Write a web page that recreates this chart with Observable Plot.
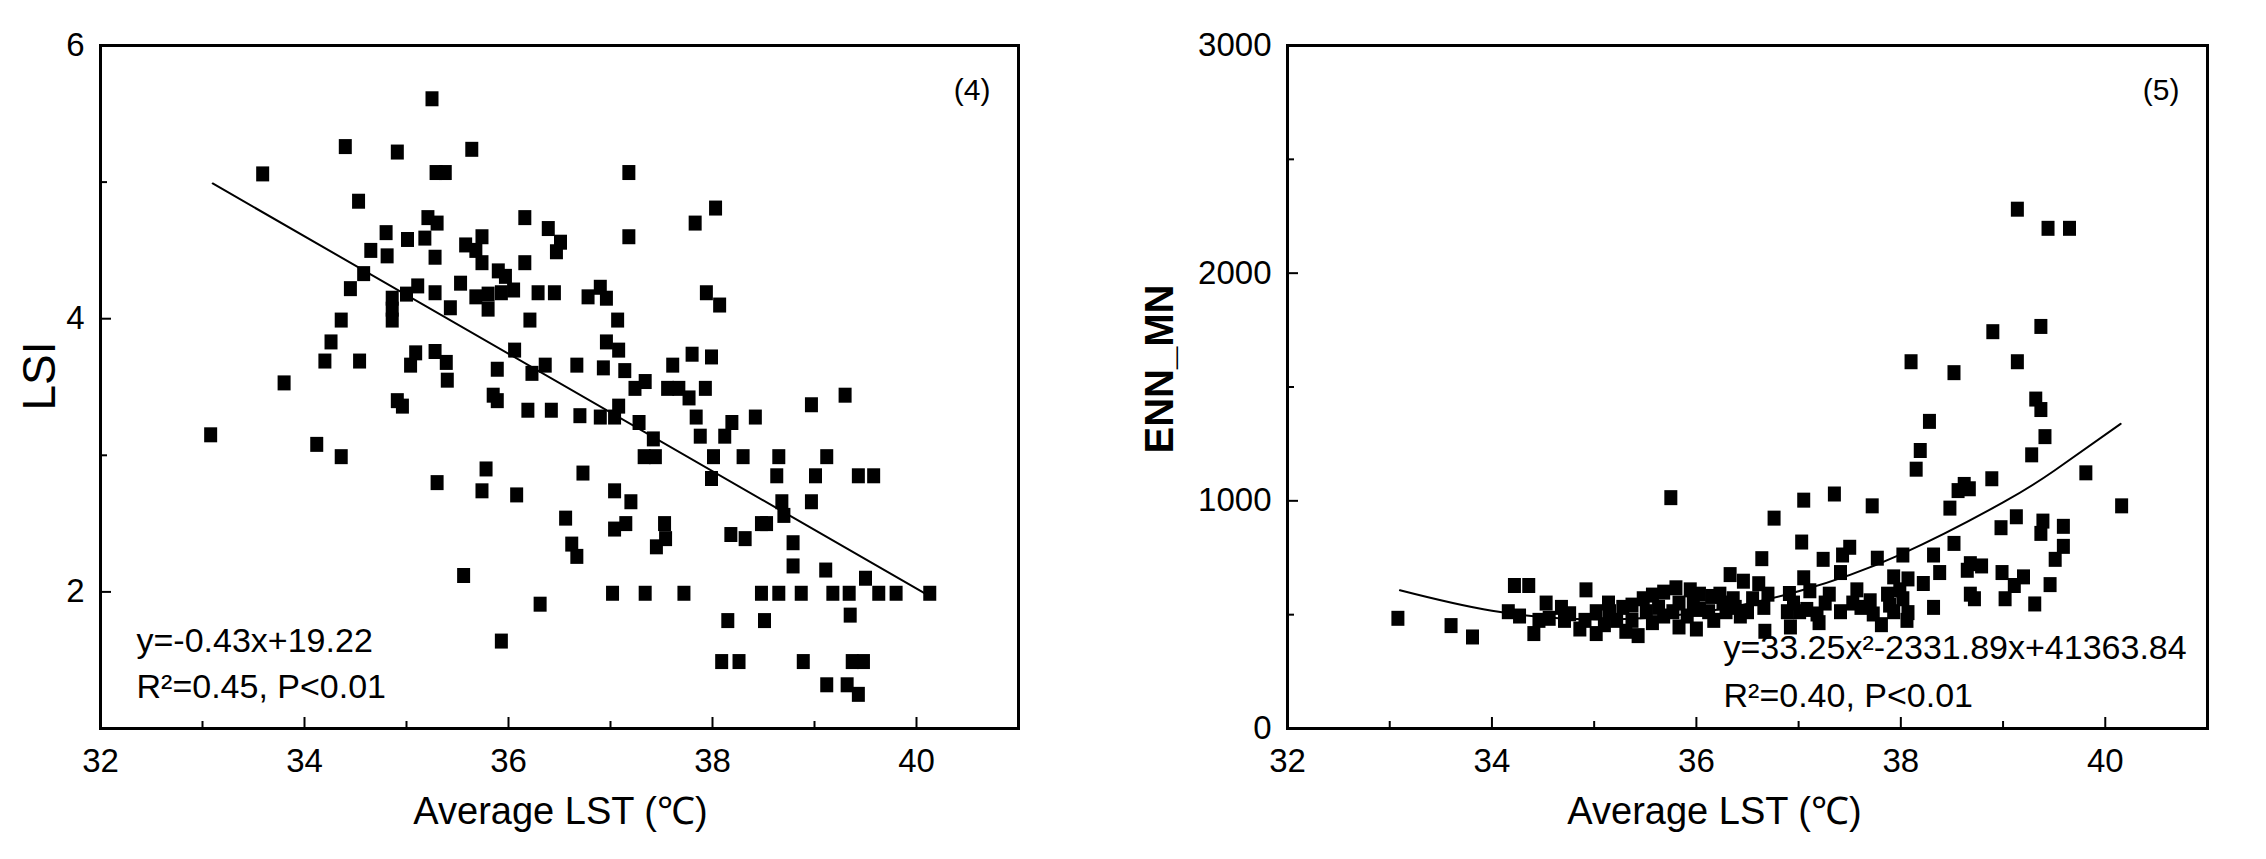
<!DOCTYPE html>
<html>
<head>
<meta charset="utf-8">
<script src="https://cdn.jsdelivr.net/npm/d3@7"></script>
<script src="https://cdn.jsdelivr.net/npm/@observablehq/plot@0.6"></script>
<style>
  html, body { margin: 0; padding: 0; background: #fff; }
  #wrap { display: flex; width: 2266px; height: 859px; }
</style>
</head>
<body>
<div id="wrap"></div>
<script>
// ---------- Data ----------
const xLabel = "Average LST (℃)";
const xMajorTicks = [32, 34, 36, 38, 40];
const xMinorTicks = [33, 35, 37, 39];

// Panel (4): LSI
const lsiLST = [35.25,34.40,34.91,35.64,33.59,35.29,35.38,37.18,34.53,38.03,37.83,35.21,35.30,36.16,36.39,34.80,35.01,35.18,35.74,37.18,36.51,35.58,35.68,34.65,34.81,35.28,36.47,35.74,36.16,34.58,35.90,35.97,34.45,35.11,35.00,34.86,35.28,35.53,35.68,35.80,35.93,36.05,36.29,36.45,36.78,36.90,36.96,37.94,38.07,35.43,35.80,34.86,34.36,34.86,36.21,37.07,34.26,34.20,34.54,35.09,35.04,35.28,35.39,35.40,36.06,35.89,36.36,36.23,36.67,36.93,36.96,37.08,37.14,37.61,37.80,37.99,33.80,34.91,34.96,35.85,35.89,36.19,36.42,36.70,36.90,37.04,37.08,37.24,37.34,37.56,37.67,37.77,37.93,37.84,37.28,37.42,37.88,38.12,38.19,38.42,38.97,39.30,33.08,34.12,34.36,37.33,37.44,38.01,38.30,38.65,39.12,35.30,35.78,35.74,36.08,36.73,37.99,38.63,39.01,39.43,39.58,37.04,37.20,38.68,38.97,38.70,36.56,37.04,37.15,37.53,38.48,38.53,38.18,38.32,37.54,37.45,36.62,36.67,38.79,38.79,39.11,39.50,35.56,37.02,37.34,37.72,38.48,38.65,38.87,39.18,39.34,39.63,39.80,40.13,36.31,38.15,38.51,39.35,35.93,38.09,38.26,38.89,39.37,39.48,39.12,39.32,39.43];
const lsiValue = [5.61,5.26,5.22,5.24,5.06,5.07,5.07,5.07,4.86,4.81,4.70,4.74,4.70,4.74,4.66,4.63,4.58,4.59,4.60,4.60,4.56,4.54,4.50,4.50,4.46,4.45,4.49,4.41,4.41,4.33,4.35,4.31,4.22,4.24,4.18,4.15,4.19,4.26,4.16,4.18,4.19,4.21,4.19,4.19,4.16,4.23,4.15,4.19,4.10,4.08,4.07,4.07,3.99,3.99,3.99,3.99,3.83,3.69,3.69,3.75,3.66,3.76,3.68,3.55,3.77,3.63,3.66,3.60,3.66,3.64,3.83,3.77,3.62,3.66,3.74,3.72,3.53,3.40,3.36,3.44,3.40,3.33,3.33,3.29,3.28,3.28,3.36,3.49,3.54,3.49,3.49,3.42,3.49,3.28,3.24,3.12,3.14,3.14,3.24,3.28,3.37,3.44,3.15,3.08,2.99,2.99,2.99,2.99,2.99,2.99,2.99,2.80,2.90,2.74,2.71,2.87,2.83,2.85,2.85,2.85,2.85,2.74,2.66,2.66,2.66,2.56,2.54,2.46,2.50,2.50,2.50,2.50,2.42,2.39,2.39,2.33,2.35,2.26,2.36,2.19,2.16,2.10,2.12,1.99,1.99,1.99,1.99,1.99,1.99,1.99,1.99,1.99,1.99,1.99,1.91,1.79,1.79,1.83,1.64,1.49,1.49,1.49,1.49,1.49,1.32,1.32,1.25];
const lsiFitLST = [33.1, 40.15];
const lsiFitValue = [4.99, 1.96];
const lsiYMajor = [2, 4, 6];
const lsiYMinor = [3, 5];

// Panel (5): ENN_MN
const ennLST = [39.14,39.44,39.65,39.37,38.90,38.10,39.14,38.52,39.32,39.37,38.28,39.41,38.19,39.28,38.15,39.81,38.89,38.56,38.67,38.62,35.75,37.05,37.35,37.72,40.16,38.48,36.76,39.13,38.98,39.39,39.37,39.59,37.03,38.52,39.59,39.51,36.64,37.50,37.43,37.24,37.77,38.02,38.32,38.38,38.68,38.79,38.65,38.99,39.20,39.11,39.46,38.68,38.72,39.02,39.31,38.32,36.33,36.46,36.61,37.05,37.41,37.93,38.07,38.22,36.70,36.91,37.11,37.26,37.57,37.87,38.02,37.89,37.61,37.41,37.73,38.07,38.06,37.81,37.20,36.92,36.67,36.89,36.66,36.95,37.08,37.30,36.50,36.36,36.26,36.15,36.03,35.94,35.80,35.68,35.57,35.48,35.63,35.77,35.91,36.03,36.17,36.29,36.43,36.00,35.83,35.57,35.43,35.31,35.22,35.28,35.14,35.02,35.02,34.91,34.86,34.92,34.76,34.68,34.53,34.56,34.41,34.46,34.22,34.36,34.27,34.16,33.08,33.60,33.81,35.37,35.15,35.51,35.68,35.83,35.97,36.12,36.23,36.38,36.55,35.37,34.71,35.10,37.01,37.18,37.93,37.99,37.53,37.70];
const ennValue = [2281,2197,2197,1766,1743,1611,1611,1563,1447,1401,1349,1282,1221,1202,1139,1123,1097,1045,1053,1072,1014,1003,1030,978,978,968,924,930,882,911,857,888,819,813,800,743,746,796,762,743,748,762,762,685,724,714,695,685,666,628,632,590,570,570,547,532,676,647,636,662,685,666,657,637,590,593,605,551,609,590,570,542,532,513,503,509,475,456,465,446,427,513,532,551,523,590,513,570,551,580,590,609,618,599,586,570,532,513,494,523,475,513,494,437,446,465,408,427,475,532,551,513,417,475,437,609,504,532,551,484,417,475,628,628,494,513,484,452,402,475,513,513,494,551,551,513,590,532,570,542,475,456,513,503,513,609,551,561];
const ennFitLST = [33.1, 34, 35, 36, 37, 38, 39, 39.5, 40.15];
const ennFitValue = [607, 517, 479, 508, 603, 765, 993, 1132, 1338];
const ennYMajor = [0, 1000, 2000, 3000];
const ennYMinor = [500, 1500, 2500];

// ---------- Drawing ----------
const FONT = "'Liberation Sans', Arial, Helvetica, sans-serif";
const rectSymbol = {
  draw(ctx) {
    const w = 13, h = 15;
    ctx.moveTo(-w / 2, -h / 2);
    ctx.lineTo(w / 2, -h / 2);
    ctx.lineTo(w / 2, h / 2);
    ctx.lineTo(-w / 2, h / 2);
    ctx.closePath();
  }
};
const plain = d => `${d}`;

function panel(o) {
  const pts = o.xs.map((x, i) => ({x, y: o.ys[i]}));
  const fit = o.fitX.map((x, i) => ({x, y: o.fitY[i]}));
  return Plot.plot({
    width: 1133, height: 859,
    marginLeft: o.mL, marginRight: o.mR, marginTop: 45, marginBottom: 131,
    x: {domain: [32, 41]},
    y: {domain: o.yDomain},
    style: {fontFamily: FONT, background: "white", color: "black", overflow: "visible"},
    marks: [
      Plot.axisX({ticks: xMajorTicks, tickFormat: plain, tickSize: -11, tickPadding: 31, fontSize: 33, strokeWidth: 2, label: null}),
      Plot.axisX({ticks: xMinorTicks, tickSize: -7, tickFormat: () => "", strokeWidth: 2, label: null}),
      Plot.axisY({ticks: o.yMajor, tickFormat: plain, tickSize: -11, tickPadding: 27, fontSize: 33, strokeWidth: 2, label: null}),
      Plot.axisY({ticks: o.yMinor, tickSize: -7, tickFormat: () => "", strokeWidth: 2, label: null}),
      Plot.line(fit, {x: "x", y: "y", curve: o.curve, stroke: "black", strokeWidth: 2}),
      Plot.dot(pts, {x: "x", y: "y", symbol: rectSymbol, fill: "black", stroke: "none"}),
      Plot.frame({stroke: "black", strokeWidth: 3}),
      Plot.text([o.tag], {text: d => d, frameAnchor: "top-right", textAnchor: "end", lineAnchor: "middle", dx: -28, dy: 45, fontSize: 30}),
      Plot.text([o.eq1], {text: d => d, frameAnchor: "bottom-left", textAnchor: "start", lineAnchor: "middle", dx: o.eqDx, dy: o.eq1Dy, fontSize: 34}),
      Plot.text([o.eq2], {text: d => d, frameAnchor: "bottom-left", textAnchor: "start", lineAnchor: "middle", dx: o.eqDx, dy: o.eq2Dy, fontSize: 34}),
      Plot.text([xLabel], {text: d => d, frameAnchor: "bottom", textAnchor: "middle", lineAnchor: "middle", dx: o.xLabelDx, dy: 83, fontSize: 38}),
      Plot.text([o.yLabel], {text: d => d, frameAnchor: "left", textAnchor: "middle", lineAnchor: "middle", rotate: -90, dx: o.yLabelDx, dy: o.yLabelDy, fontSize: o.yLabelSize, fontWeight: o.yLabelWeight})
    ]
  });
}

const wrap = document.getElementById("wrap");
wrap.appendChild(panel({
  xs: lsiLST, ys: lsiValue, yDomain: [1, 6], yMajor: lsiYMajor, yMinor: lsiYMinor,
  fitX: lsiFitLST, fitY: lsiFitValue, curve: "linear",
  mL: 100, mR: 115, tag: "(4)",
  eq1: "y=-0.43x+19.22", eq2: "R²=0.45, P<0.01", eqDx: 36, eq1Dy: -87, eq2Dy: -41,
  xLabelDx: 1, yLabel: "LSI", yLabelDx: -60, yLabelDy: -11, yLabelSize: 46, yLabelWeight: "normal"
}));
wrap.appendChild(panel({
  xs: ennLST, ys: ennValue, yDomain: [0, 3000], yMajor: ennYMajor, yMinor: ennYMinor,
  fitX: ennFitLST, fitY: ennFitValue, curve: "natural",
  mL: 154, mR: 59, tag: "(5)",
  eq1: "y=33.25x²-2331.89x+41363.84", eq2: "R²=0.40, P<0.01", eqDx: 436, eq1Dy: -80, eq2Dy: -32,
  xLabelDx: -33, yLabel: "ENN_MN", yLabelDx: -127, yLabelDy: -18, yLabelSize: 40, yLabelWeight: "bold"
}));
</script>
</body>
</html>
